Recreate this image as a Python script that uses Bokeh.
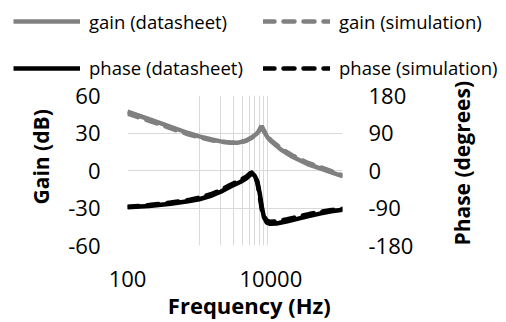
import math
from bokeh.plotting import figure
from bokeh.layouts import column
from bokeh.models import (LinearAxis, Range1d, FixedTicker, Legend, LegendItem,
                          NumeralTickFormatter)
from bokeh.embed import file_html
from bokeh.resources import INLINE

# ---- data ----
freq_gain = [100, 200, 300, 500, 700, 1000, 1500, 2000, 2800, 3500, 4500, 5500,
             6500, 7000, 7400, 8000, 9000, 10000, 14000, 20000, 33000, 50000,
             70000, 100000]
gain_datasheet = [47, 41, 37.5, 33, 30, 27.3, 24.8, 23.3, 22.3, 22.3, 23.8, 26.5,
                  30, 32.5, 35.3, 31.5, 26.5, 23.5, 16.5, 11, 5, 1.5, -1.5, -4.5]
gain_simulation = [45.5, 39.8, 36.3, 31.8, 29, 26.5, 24.2, 23, 22.2, 22.3, 23.8, 26.6,
                   30.3, 32.8, 35.5, 32, 27, 24.3, 17.5, 12, 6, 2.5, -0.5, -4]

freq_phase = [100, 200, 400, 700, 1000, 1500, 2000, 2700, 3800, 4600, 5200, 5600,
              6000, 6500, 7000, 7500, 8000, 8800, 9800, 12000, 17000, 25000,
              35000, 50000, 70000, 100000]
phase_datasheet = [-88, -85, -80, -74, -69, -60, -51, -39, -27, -18, -10, -8,
                   -14, -27, -55, -88, -112, -125, -128, -127, -122, -115,
                   -109, -103, -98, -94]
phase_simulation = [-87, -83, -77, -71, -65, -56, -47, -35, -23, -14, -6, -4,
                    -12, -30, -62, -95, -110, -120, -123, -122, -117, -110,
                    -104, -99, -95, -92]

gain_ticks = [-60, -30, 0, 30, 60]
phase_ticks = [-180, -90, 0, 90, 180]
freq_ticks = [100, 10000]
freq_grid = [1000, 2000, 3000, 4000, 5000, 6000, 7000, 8000, 9000, 100000]

series_labels = ["gain (datasheet)", "gain (simulation)",
                 "phase (datasheet)", "phase (simulation)"]
series_colors = ["#808080", "#808080", "black", "black"]
series_dash = ["solid", "11 9", "solid", "11 9"]

FONT = "Open Sans"
NB = "\u00a0"
LW = 4.5
TOP_H = 80  # height of the legend strip


def no_frame_align(fig):
    try:
        fig.frame_align = False
    except Exception:
        pass


# ---------------- main chart ----------------
p = figure(width=506, height=322 - TOP_H, x_axis_type="log",
           x_range=Range1d(100, 100000), y_range=Range1d(-60, 60),
           output_backend="svg", toolbar_location=None,
           min_border_left=127, min_border_right=164,
           min_border_top=95 - TOP_H, min_border_bottom=73)
no_frame_align(p)
p.extra_y_ranges = {"phase": Range1d(-180, 180)}
p.outline_line_color = None
p.background_fill_color = "white"
p.border_fill_color = "white"

p.xgrid.ticker = FixedTicker(ticks=freq_grid)
p.ygrid.ticker = FixedTicker(ticks=gain_ticks)
for g in (p.xgrid, p.ygrid):
    g.grid_line_color = "#d9d9d9"
    g.grid_line_width = 1

p.xaxis.ticker = FixedTicker(ticks=freq_ticks)
p.xaxis.formatter = NumeralTickFormatter(format="0")
p.yaxis.ticker = FixedTicker(ticks=gain_ticks)
p.yaxis.formatter = NumeralTickFormatter(format="0")
right = LinearAxis(y_range_name="phase", ticker=FixedTicker(ticks=phase_ticks),
                   formatter=NumeralTickFormatter(format="0"))
p.add_layout(right, "right")

for ax in (p.xaxis[0], p.yaxis[0], right):
    ax.axis_line_color = None
    ax.major_tick_line_color = None
    ax.minor_tick_line_color = None
    ax.major_tick_out = 0
    ax.major_tick_in = 0
    ax.minor_tick_out = 0
    ax.major_label_text_font = FONT
    ax.major_label_text_font_size = "22px"
    ax.major_label_text_color = "black"
    ax.axis_label_text_font = FONT
    ax.axis_label_text_font_size = "21px"
    ax.axis_label_text_font_style = "bold"
    ax.axis_label_text_color = "black"
p.xaxis.major_label_standoff = 25
p.yaxis.major_label_standoff = 27
right.major_label_standoff = 26

p.xaxis.axis_label = NB * 5 + "Frequency (Hz)"
p.xaxis.axis_label_text_font_size = "22px"
p.xaxis.axis_label_standoff = 0
p.yaxis.axis_label = NB * 5 + "Gain (dB)"
p.yaxis.axis_label_standoff = 10
right.axis_label = "Phase (degrees)"
right.axis_label_text_font_size = "21px"
right.axis_label_orientation = math.pi / 2
right.axis_label_align = "start"
right.axis_label_standoff = 46

p.line(freq_gain, gain_datasheet, line_color=series_colors[0], line_width=LW)
p.line(freq_gain, gain_simulation, line_color=series_colors[1], line_width=LW,
       line_dash=series_dash[1], line_cap="round")
p.line(freq_phase, phase_datasheet, line_color=series_colors[2], line_width=LW,
       y_range_name="phase")
p.line(freq_phase, phase_simulation, line_color=series_colors[3], line_width=LW,
       line_dash=series_dash[3], line_cap="round", y_range_name="phase")

# ---------------- legend strip ----------------
lg = figure(frame_width=506, frame_height=TOP_H, output_backend="svg",
            toolbar_location=None, x_axis_location=None, y_axis_location=None,
            x_range=Range1d(0, 1), y_range=Range1d(0, 1),
            min_border_left=0, min_border_right=0, min_border_top=0, min_border_bottom=0)
no_frame_align(lg)
lg.outline_line_color = None
lg.xgrid.visible = False
lg.ygrid.visible = False
lg.background_fill_color = "white"
lg.border_fill_color = "white"

# legend proxies: one-point lines (nothing visible is drawn by them)
series_x = [freq_gain, freq_gain, freq_phase, freq_phase]
series_y = [gain_datasheet, gain_simulation, phase_datasheet, phase_simulation]
proxies = []
for i in range(4):
    kw = dict(line_color=series_colors[i], line_width=LW)
    if series_dash[i] != "solid":
        kw.update(line_dash=series_dash[i], line_cap="round")
    proxies.append(lg.line(series_x[i][:1], series_y[i][:1], **kw))


def make_legend(idx, loc):
    leg = Legend(items=[LegendItem(label=series_labels[i], renderers=[proxies[i]])
                        for i in idx],
                 location=loc, orientation="horizontal")
    leg.glyph_width = 67
    leg.glyph_height = 24
    leg.label_height = 24
    leg.label_width = 156
    leg.label_standoff = 9
    leg.spacing = 18
    leg.padding = 0
    leg.margin = 0
    leg.border_line_color = None
    leg.background_fill_alpha = 0
    leg.label_text_font = FONT
    leg.label_text_font_size = "18.5px"
    leg.label_text_color = "black"
    return leg


lg.add_layout(make_legend([0, 1], (13, 46.5)))
lg.add_layout(make_legend([2, 3], (13, 0)))

page = column(lg, p, spacing=0)
open("out.html", "w").write(file_html(page, INLINE))
